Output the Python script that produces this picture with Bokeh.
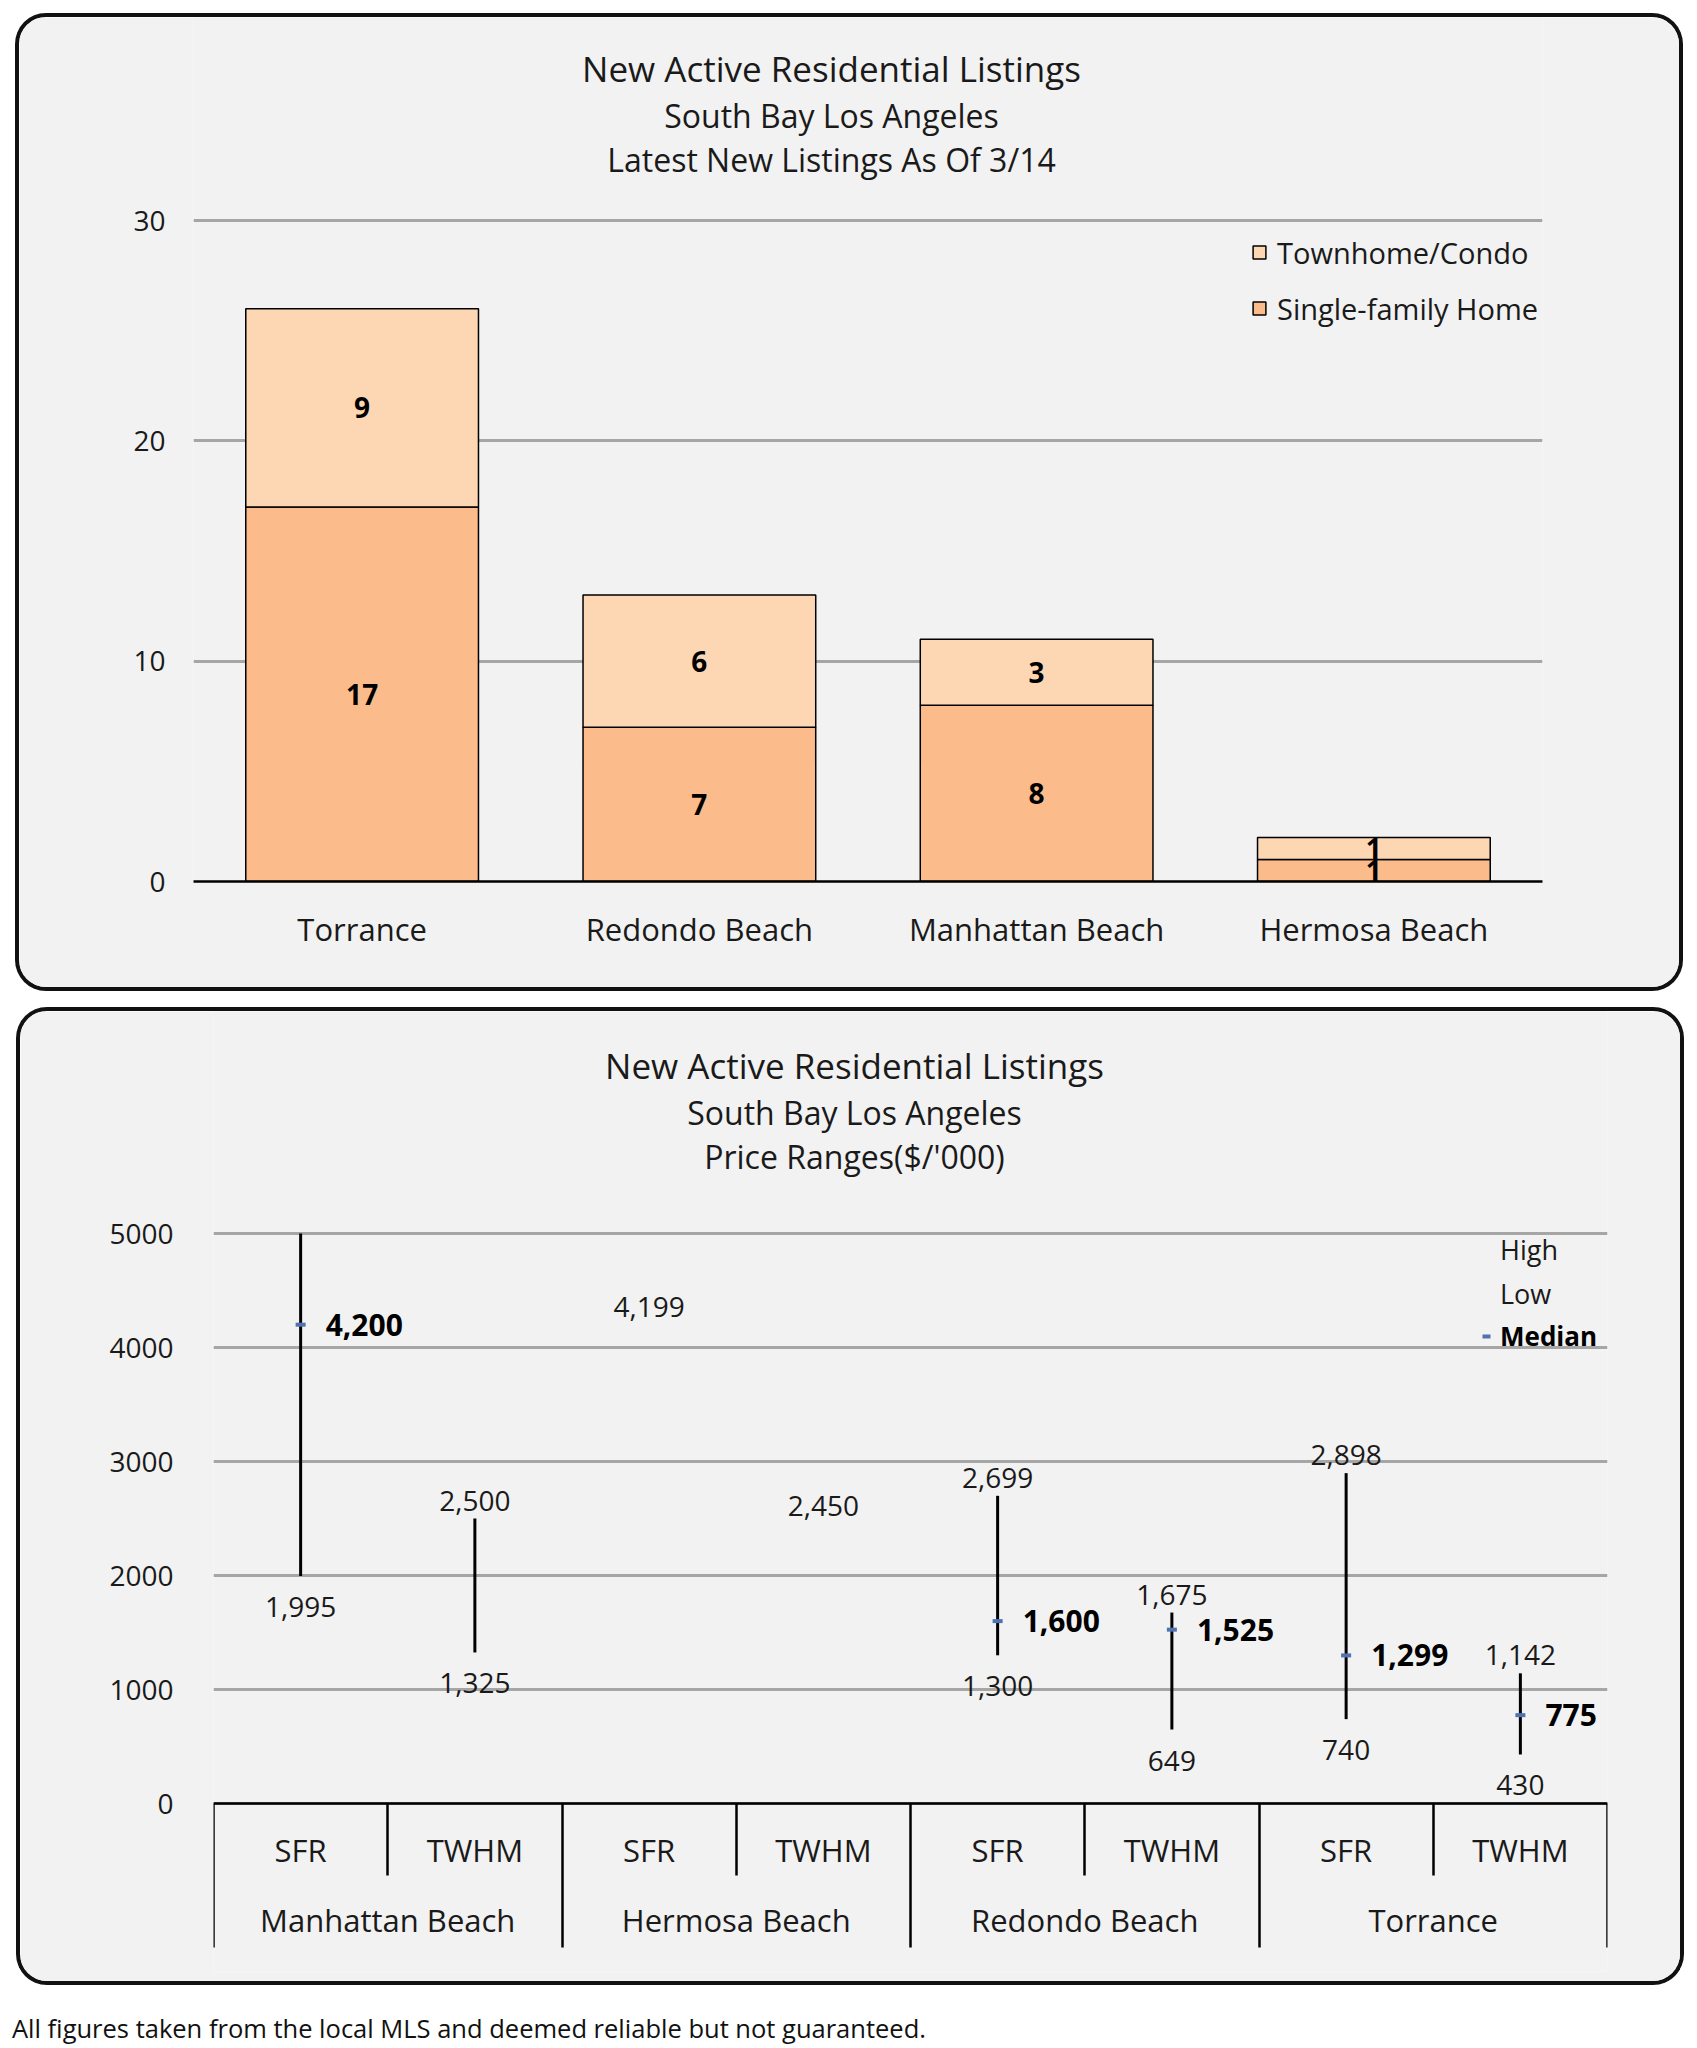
import math
from bokeh.plotting import figure
from bokeh.models import (ColumnDataSource, FactorRange, Range1d, LinearAxis, FixedTicker,
                          Label, Legend, LegendItem, Div)
from bokeh.layouts import column
from bokeh.embed import file_html
from bokeh.resources import INLINE
from bokeh.core.properties import value

nan = float("nan")

# ---------------- data: top chart ----------------
cities = ["Torrance", "Redondo Beach", "Manhattan Beach", "Hermosa Beach"]
single_family = [17, 7, 8, 1]
townhome_condo = [9, 6, 3, 1]
top_titles = ["New Active Residential Listings", "South Bay Los Angeles", "Latest New Listings As Of 3/14"]
top_ticks = [0, 10, 20, 30]

# ---------------- data: bottom chart ($'000) ----------------
areas = ["Manhattan Beach", "Hermosa Beach", "Redondo Beach", "Torrance"]
types = ["SFR", "TWHM"]
highs = [5000, 2500, 4199, 2450, 2699, 1675, 2898, 1142]   # MB SFR high runs off the top of the axis
lows = [1995, 1325, nan, nan, 1300, 649, 740, 430]
medians = [4200, nan, nan, nan, 1600, 1525, 1299, 775]
bottom_titles = ["New Active Residential Listings", "South Bay Los Angeles", "Price Ranges($/'000)"]
bottom_ticks = [0, 1000, 2000, 3000, 4000, 5000]
footer = "All figures taken from the local MLS and deemed reliable but not guaranteed."

# ---------------- styles ----------------
FONT = "Open Sans"
TXT = "#1a1a1a"
BG = "#f2f2f2"
GRID = "#a6a6a6"
SFH_C = "#fbbb8a"
CONDO_C = "#fdd7b4"
BLUE = "#4f72b0"
WORD_FS = "31px"
NUM_FS = "28px"
TITLE_FS = ["35px", "32px", "32px"]
W, H = 1660, 970


def panel_css(dx, dy):
    return {"border-radius": "27px", "overflow": "hidden", "box-shadow": "0 0 0 4px #111111",
            "transform": "translate(%dpx, %dpx)" % (dx, dy)}


def fmt(v):
    return "{:,}".format(int(v))


# ================= top chart =================
T_LEFT, T_RIGHT, T_TOP_AX, T_BOTTOM = 174, 137, 203, 106      # canvas px of the 0..30 frame
t_plot_h = H - T_TOP_AX - T_BOTTOM
t_ppu = t_plot_h / top_ticks[-1]
t_yend = top_ticks[-1] + T_TOP_AX / t_ppu                    # frame reaches the panel top (room for titles)
t_zero = H - T_BOTTOM

p1 = figure(width=W, height=H, x_range=FactorRange(*cities, range_padding=0), y_range=Range1d(0, t_yend),
            output_backend="svg", toolbar_location=None,
            min_border_left=T_LEFT, min_border_right=T_RIGHT, min_border_top=0, min_border_bottom=T_BOTTOM,
            background_fill_color=BG, border_fill_color=BG, outline_line_color=None)
p1.styles = panel_css(19, 17)

src1 = ColumnDataSource(dict(city=cities, sfh=single_family, condo=townhome_condo))
rs = p1.vbar_stack(["sfh", "condo"], x="city", width=0.69, source=src1,
                   fill_color=[SFH_C, CONDO_C], line_color="black", line_width=1.5)

lab_x = cities + cities
lab_y = [s / 2 for s in single_family] + [s + c / 2 for s, c in zip(single_family, townhome_condo)]
lab_t = [str(v) for v in single_family] + [str(v) for v in townhome_condo]
p1.text(x="x", y="y", text="t", source=ColumnDataSource(dict(x=lab_x, y=lab_y, t=lab_t)),
        text_align="center", text_baseline="middle", text_font=value(FONT),
        text_font_style="bold", text_font_size=NUM_FS, text_color="black")

p1.yaxis.ticker = FixedTicker(ticks=top_ticks)
p1.yaxis.axis_line_color = None
p1.yaxis.major_tick_line_color = None
p1.yaxis.minor_tick_line_color = None
p1.yaxis.major_tick_out = 0
p1.yaxis.major_label_standoff = 28
p1.yaxis.major_label_text_font = FONT
p1.yaxis.major_label_text_font_size = NUM_FS
p1.yaxis.major_label_text_color = TXT

p1.xaxis.axis_line_color = "black"
p1.xaxis.axis_line_width = 2.5
p1.xaxis.major_tick_line_color = None
p1.xaxis.major_tick_out = 0
p1.xaxis.major_label_standoff = 26
p1.xaxis.major_label_text_font = FONT
p1.xaxis.major_label_text_font_size = WORD_FS
p1.xaxis.major_label_text_color = TXT

p1.ygrid.grid_line_color = GRID
p1.ygrid.grid_line_width = 3
p1.xgrid.grid_line_color = None

for t, cy, fs in zip(top_titles, [51, 98, 142], TITLE_FS):
    p1.add_layout(Label(x=(812 - T_LEFT) / ((W - T_LEFT - T_RIGHT) / len(cities)), y=(t_zero - cy) / t_ppu,
                        text=t, text_align="center", text_baseline="middle",
                        text_font=FONT, text_font_size=fs, text_color=TXT))

leg1 = Legend(items=[LegendItem(label="Townhome/Condo", renderers=[rs[1]]),
                     LegendItem(label="Single-family Home", renderers=[rs[0]])],
              location=(1058, 552), orientation="vertical",
              glyph_width=16, glyph_height=16, label_standoff=10, label_height=42, spacing=14,
              padding=0, margin=0, border_line_color=None, background_fill_alpha=0,
              label_text_font=FONT, label_text_font_size="29px", label_text_color=TXT)
p1.add_layout(leg1)

# ================= bottom chart =================
B_LEFT, B_RIGHT, B_TOP_AX, B_ZERO, B_BOTTOM = 193, 73, 222, 792, 10
b_ppu = (B_ZERO - B_TOP_AX) / bottom_ticks[-1]
b_yend = bottom_ticks[-1] + B_TOP_AX / b_ppu
b_ystart = -(H - B_BOTTOM - B_ZERO) / b_ppu      # frame extends under the category table
b_shift = H - B_BOTTOM - B_ZERO                   # px between value 0 and frame bottom

factors = [(a, t) for a in areas for t in types]
p2 = figure(width=W, height=H,
            x_range=FactorRange(*factors, factor_padding=0, group_padding=0, range_padding=0),
            y_range=Range1d(b_ystart, b_yend), output_backend="svg", toolbar_location=None,
            min_border_left=B_LEFT, min_border_right=B_RIGHT, min_border_top=0, min_border_bottom=B_BOTTOM,
            background_fill_color=BG, border_fill_color=BG, outline_line_color=None)
p2.styles = panel_css(20, 41)

for p in (p1, p2):
    try:
        p.frame_align = False
    except Exception:
        pass

src2 = ColumnDataSource(dict(f=factors, hi=highs, lo=lows, med=medians))
p2.segment(x0="f", y0="lo", x1="f", y1="hi", source=src2, line_color="black", line_width=3)
r_hi = p2.scatter(x="f", y="hi", source=src2, size=1, fill_alpha=0, line_alpha=0)
r_lo = p2.scatter(x="f", y="lo", source=src2, size=1, fill_alpha=0, line_alpha=0)
r_med = p2.scatter(x="f", y="med", source=src2, marker="dash", size=10, line_color=BLUE, line_width=4)

ymax = bottom_ticks[-1]
hi_rows = [(f, v) for f, v in zip(factors, highs) if not math.isnan(v) and v < ymax]
lo_rows = [(f, v) for f, v in zip(factors, lows) if not math.isnan(v)]
md_rows = [(f, v) for f, v in zip(factors, medians) if not math.isnan(v)]

p2.text(x="f", y="v", text="t",
        source=ColumnDataSource(dict(f=[r[0] for r in hi_rows], v=[r[1] for r in hi_rows],
                                     t=[fmt(r[1]) for r in hi_rows])),
        text_align="center", text_baseline="middle", y_offset=-18,
        text_font=value(FONT), text_font_size=NUM_FS, text_color=TXT)
p2.text(x="f", y="v", text="t",
        source=ColumnDataSource(dict(f=[r[0] for r in lo_rows], v=[r[1] for r in lo_rows],
                                     t=[fmt(r[1]) for r in lo_rows])),
        text_align="center", text_baseline="middle", y_offset=31,
        text_font=value(FONT), text_font_size=NUM_FS, text_color=TXT)
p2.text(x="f", y="v", text="t",
        source=ColumnDataSource(dict(f=[r[0] for r in md_rows], v=[r[1] for r in md_rows],
                                     t=[fmt(r[1]) for r in md_rows])),
        text_align="left", text_baseline="middle", x_offset=25,
        text_font=value(FONT), text_font_size="30px", text_font_style="bold", text_color="black")

p2.yaxis.ticker = FixedTicker(ticks=bottom_ticks)
p2.yaxis.axis_line_color = None
p2.yaxis.major_tick_line_color = None
p2.yaxis.minor_tick_line_color = None
p2.yaxis.major_tick_out = 0
p2.yaxis.major_label_standoff = 40
p2.yaxis.major_label_text_font = FONT
p2.yaxis.major_label_text_font_size = NUM_FS
p2.yaxis.major_label_text_color = TXT

xa = p2.xaxis[0]
xa.fixed_location = 0
xa.axis_line_color = None
xa.major_tick_line_color = None
xa.major_tick_out = 0
xa.major_tick_in = 0
xa.separator_line_color = None
xa.major_label_standoff = 25
xa.major_label_text_font = FONT
xa.major_label_text_font_size = WORD_FS
xa.major_label_text_color = TXT
xa.group_text_font = FONT
xa.group_text_font_size = WORD_FS
xa.group_text_font_style = "normal"
xa.group_text_color = TXT

# table-style separators below the category axis (ticks at factor boundaries, synthetic coords)
sep = LinearAxis(fixed_location=0,
                 ticker=FixedTicker(ticks=list(range(0, len(factors) + 1, 2)),
                                    minor_ticks=list(range(1, len(factors), 2))),
                 axis_line_color="black", axis_line_width=2.5,
                 major_tick_out=144, major_tick_in=0, major_tick_line_width=2.5, major_tick_line_color="black",
                 minor_tick_out=72, minor_tick_in=0, minor_tick_line_width=2.5, minor_tick_line_color="black",
                 major_label_text_color=None)
p2.add_layout(sep, "below")

p2.ygrid.grid_line_color = GRID
p2.ygrid.grid_line_width = 3
p2.xgrid.grid_line_color = None

for t, cy, fs in zip(bottom_titles, [54, 101, 145], TITLE_FS):
    p2.add_layout(Label(x=(834 - B_LEFT) / ((W - B_LEFT - B_RIGHT) / len(factors)), y=(B_ZERO - cy) / b_ppu,
                        text=t, text_align="center", text_baseline="middle",
                        text_font=FONT, text_font_size=fs, text_color=TXT))

leg2 = Legend(items=[LegendItem(label="High", renderers=[r_hi]), LegendItem(label="Low", renderers=[r_lo])],
              location=(1263, 491 + b_shift), orientation="vertical",
              glyph_width=20, glyph_height=20, label_standoff=4, label_height=38, spacing=6,
              padding=0, margin=0, border_line_color=None, background_fill_alpha=0,
              label_text_font=FONT, label_text_font_size="27px", label_text_color=TXT)
leg3 = Legend(items=[LegendItem(label="Median", renderers=[r_med])],
              location=(1263, 448 + b_shift), orientation="vertical",
              glyph_width=20, glyph_height=20, label_standoff=4, label_height=38, spacing=6,
              padding=0, margin=0, border_line_color=None, background_fill_alpha=0,
              label_text_font=FONT, label_text_font_size="26px", label_text_font_style="bold",
              label_text_color="black")
p2.add_layout(leg2)
p2.add_layout(leg3)

foot = Div(text=footer, width=1300, height=34,
           styles={"font-family": FONT, "font-size": "25.5px", "line-height": "34px",
                   "color": "#111111", "white-space": "nowrap", "transform": "translate(7px, 66px)"})

layout = column(p1, p2, foot)
open("out.html", "w").write(file_html(layout, INLINE))
